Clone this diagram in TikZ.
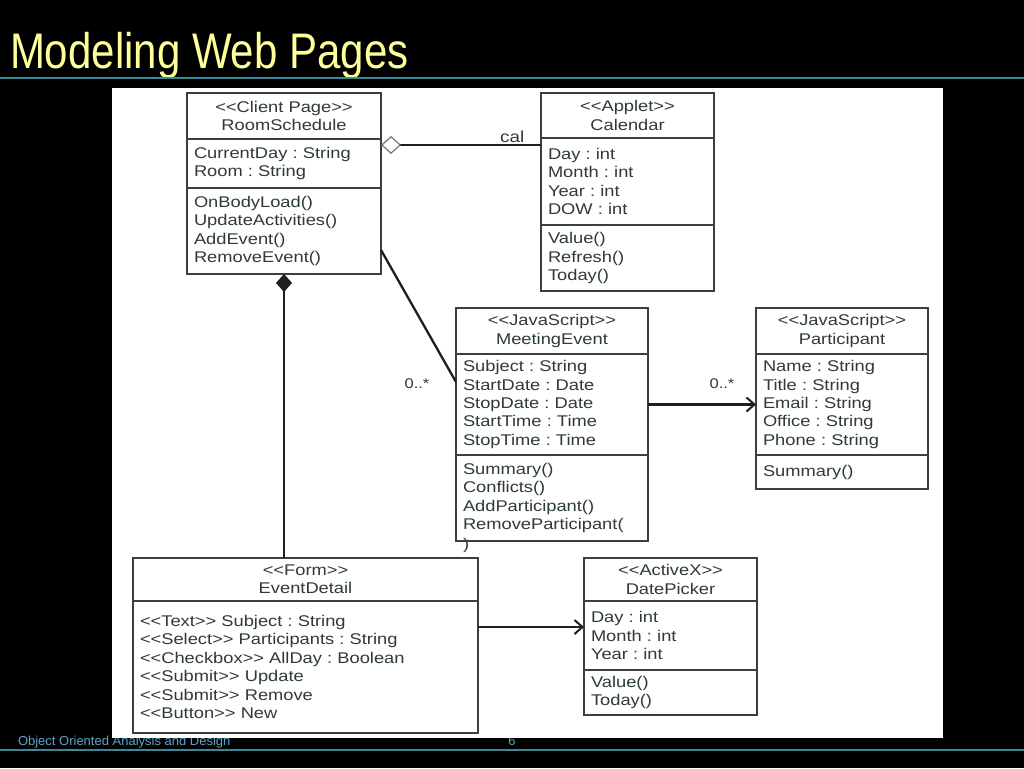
\documentclass[tikz,border=0pt]{standalone}
\usepackage{fontspec}
\usepackage{tikz}
\usetikzlibrary{arrows.meta,positioning,calc}
\newfontfamily\umlfont[FakeStretch=1.18]{Liberation Sans}
\newfontfamily\titlefont[FakeStretch=0.84]{Liberation Sans}
\newfontfamily\footfont{Liberation Sans}
\definecolor{titleyellow}{HTML}{FFFF99}
\definecolor{rulecol}{HTML}{3E8797}
\definecolor{footblue}{HTML}{5FA3C3}
\definecolor{ink}{HTML}{2E3B38}
\definecolor{boxline}{HTML}{3A403E}
\definecolor{wire}{HTML}{1E1E1E}
\newcommand\lguil{<\kern0pt<}
\newcommand\rguil{>\kern0pt>}
\frenchspacing

\begin{document}
\begin{tikzpicture}[
    x=1pt, y=-1pt,
    every node/.style={inner sep=0pt, outer sep=0pt},
    part/.style={
        draw=boxline,
        line width=1.3pt,
        fill=white,
        text=ink,
        font=\umlfont\fontsize{15.5}{18.4}\selectfont,
        inner xsep=7pt,
        inner ysep=2pt
    },
    head/.style={part, align=center},
    body/.style={part, align=left},
    wd/.code={\pgfmathsetmacro\boxtw{#1-14}\tikzset{minimum width=#1pt, text width=\boxtw pt}},
    ht/.style={minimum height=#1pt},
    txt/.style={text=ink, font=\umlfont\fontsize{15.5}{18.4}\selectfont},
    mult/.style={text=ink, font=\umlfont\fontsize{14}{16}\selectfont},
    link/.style={draw=wire, line width=2.8pt}
]

% ---------------- Slide ----------------
\useasboundingbox (0,0) rectangle (1024,768);
\fill[black] (0,0) rectangle (1024,768);
\node[anchor=base west, text=footblue, font=\footfont\fontsize{13}{15}\selectfont] (foot) at (18,745) {Object Oriented Analysis and Design};
\node[anchor=base, text=footblue, font=\footfont\fontsize{13}{15}\selectfont] (pageno) at (512,745) {6};
\fill[white] (112,88) rectangle (943,738);
\node[anchor=base west, text=titleyellow, font=\titlefont\fontsize{50}{60}\selectfont] (title) at (10,68) {Modeling Web Pages};
\draw[rulecol, line width=1.5pt] (0,78) -- (1024,78);
\draw[rulecol, line width=1.5pt] (0,750) -- (1024,750);

% ---------------- RoomSchedule ----------------
\node[head, wd=194, ht=46, anchor=north west] (rsHead) at (187,93) {\lguil Client Page\rguil\\RoomSchedule};
\node[body, wd=194, ht=49, below=0pt of rsHead] (rsAttr) {CurrentDay : String\\Room : String};
\node[body, wd=194, ht=86, below=0pt of rsAttr] (rsOps) {OnBodyLoad()\\UpdateActivities()\\AddEvent()\\RemoveEvent()};

% ---------------- Calendar ----------------
\node[head, wd=173, ht=45, anchor=north west] (calHead) at (541,93) {\lguil Applet\rguil\\Calendar};
\node[body, wd=173, ht=87, below=0pt of calHead] (calAttr) {Day : int\\Month : int\\Year : int\\DOW : int};
\node[body, wd=173, ht=66, below=0pt of calAttr] (calOps) {Value()\\Refresh()\\Today()};

% ---------------- MeetingEvent ----------------
\node[head, wd=192, ht=46, anchor=north west] (meHead) at (456,308) {\lguil JavaScript\rguil\\MeetingEvent};
\node[body, wd=192, ht=101, below=0pt of meHead] (meAttr) {Subject : String\\StartDate : Date\\StopDate : Date\\StartTime : Time\\StopTime : Time};
\node[body, wd=192, ht=86, below=0pt of meAttr] (meOps) {Summary()\\Conflicts()\\AddParticipant()\\RemoveParticipant(};
\node[txt, anchor=north west] (meParen) at ($(meOps.south west)+(7,-3)$) {)};

% ---------------- Participant ----------------
\node[head, wd=172, ht=46, anchor=north west] (paHead) at (756,308) {\lguil JavaScript\rguil\\Participant};
\node[body, wd=172, ht=101, below=0pt of paHead] (paAttr) {Name : String\\Title : String\\Email : String\\Office : String\\Phone : String};
\node[body, wd=172, ht=34, below=0pt of paAttr] (paOps) {Summary()};

% ---------------- EventDetail ----------------
\node[head, wd=345, ht=43, anchor=north west] (edHead) at (133,558) {\lguil Form\rguil\\EventDetail};
\node[body, wd=345, ht=132, below=0pt of edHead] (edAttr) {\lguil Text\rguil{} Subject : String\\\lguil Select\rguil{} Participants : String\\\lguil Checkbox\rguil{} AllDay : Boolean\\\lguil Submit\rguil{} Update\\\lguil Submit\rguil{} Remove\\\lguil Button\rguil{} New\\[6pt]};

% ---------------- DatePicker ----------------
\node[head, wd=173, ht=43, anchor=north west] (dpHead) at (584,558) {\lguil ActiveX\rguil\\DatePicker};
\node[body, wd=173, ht=69, below=0pt of dpHead] (dpAttr) {Day : int\\Month : int\\Year : int};
\node[body, wd=173, ht=45, below=0pt of dpAttr] (dpOps) {Value()\\Today()};

% ---------------- Connectors ----------------
\coordinate (rsOut) at ($(rsAttr.north east)+(0,6)$);
\draw[link, {Diamond[open, length=20pt, width=18pt, line width=1.2pt, color=boxline!70]}-]
    (rsOut) -- (rsOut -| calAttr.west) node[pos=0.82, above=2pt, mult, font=\umlfont\fontsize{16}{18}\selectfont] (calLbl) {cal};

\draw[link, {Diamond[length=18pt, width=16pt]}-] (rsOps.south) -- (rsOps.south |- edHead.north);

\draw[link, line width=2.3pt] ($(rsOps.east)+(0,19)$) -- ($(meAttr.west)+(0,-22.5)$);
\node[mult] (meMult) at ($(meAttr.west)+(-39,-20.5)$) {0..*};

\draw[link, -{Straight Barb[length=8pt, width=14pt, line width=2pt]}] (meAttr.east) -- (paAttr.west);
\node[mult] (paMult) at ($(paAttr.west)+(-34,-20.5)$) {0..*};

\coordinate (edOut) at ($(edAttr.east)+(0,-40)$);
\draw[link, -{Straight Barb[length=8pt, width=14pt, line width=2pt]}] (edOut) -- (edOut -| dpAttr.west);

\end{tikzpicture}
\end{document}
